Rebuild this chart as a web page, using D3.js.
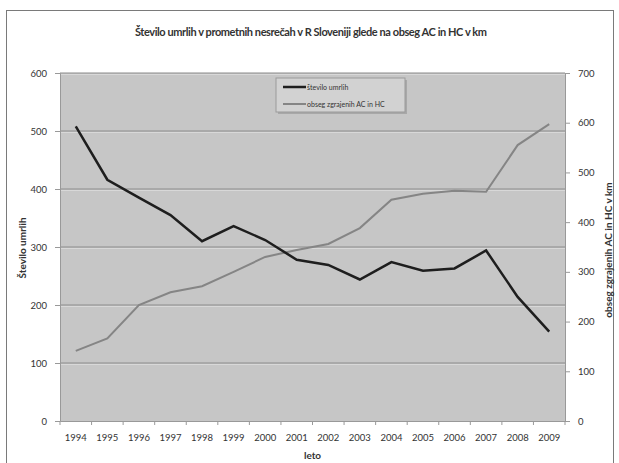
<!DOCTYPE html>
<html>
<head>
<meta charset="utf-8">
<script src="https://cdn.jsdelivr.net/npm/d3@7"></script>
<style>
body { margin: 0; background: #fff; }
text { font-family: Lato, "Open Sans", sans-serif; fill: #333; }
</style>
</head>
<body>
<div id="chart"></div>
<script>
// Data
var years = ["1994","1995","1996","1997","1998","1999","2000","2001","2002","2003","2004","2005","2006","2007","2008","2009"];
var umrli = [508, 416, 385, 355, 310, 336, 312, 278, 269, 244, 274, 259, 263, 294, 214, 154];
var obseg = [141, 166, 233, 259, 271, 300, 330, 344, 356, 388, 445, 457, 463, 461, 555, 597];
var leftTicks = [0, 100, 200, 300, 400, 500, 600];
var rightTicks = [0, 100, 200, 300, 400, 500, 600, 700];

// Size settings
var W = 619, H = 463;
var margin = { top: 73, right: 54, bottom: 42, left: 60 };
var width = W - margin.left - margin.right,
    height = H - margin.top - margin.bottom;

var svg = d3.select("#chart").append("svg")
    .attr("width", W)
    .attr("height", H);

// chart area border
svg.append("rect")
    .attr("x", 6.5).attr("y", 10.5)
    .attr("width", 607).attr("height", 460)
    .attr("fill", "#fff")
    .attr("stroke", "#7a7a7a");

svg.append("text")
    .attr("x", 311).attr("y", 36)
    .attr("text-anchor", "middle")
    .style("font-size", "11px")
    .style("font-weight", "bold")
    .attr("textLength", 352)
    .text("Število umrlih v prometnih nesrečah v R Sloveniji glede na obseg AC in HC v km");

var g = svg.append("g")
    .attr("transform", "translate(" + margin.left + "," + margin.top + ")");

// Scales
var xScale = d3.scaleBand().domain(years).range([0, width]);
var yLeft = d3.scaleLinear().domain([0, 600]).range([height, 0]);
var yRight = d3.scaleLinear().domain([0, 700]).range([height, 0]);

// plot area
g.append("rect")
    .attr("width", width).attr("height", height)
    .attr("fill", "#c6c6c6");

// gridlines
g.selectAll(".grid")
    .data(leftTicks.filter(function(d) { return d > 0; }))
  .enter().append("line")
    .attr("x1", 0).attr("x2", width)
    .attr("y1", function(d) { return yLeft(d); })
    .attr("y2", function(d) { return yLeft(d); })
    .attr("stroke", "#8c8c8c")
    .attr("stroke-width", 1.2);
g.selectAll(".gridhi")
    .data(leftTicks.filter(function(d) { return d > 0; }))
  .enter().append("line")
    .attr("x1", 0).attr("x2", width)
    .attr("y1", function(d) { return yLeft(d) + 1.5; })
    .attr("y2", function(d) { return yLeft(d) + 1.5; })
    .attr("stroke", "#d8d8d8")
    .attr("stroke-width", 1);

// Axes
var xAxis = d3.axisBottom(xScale).tickSize(0).tickPadding(13);
var leftAxis = d3.axisLeft(yLeft).tickValues(leftTicks).tickSize(5).tickPadding(8);
var rightAxis = d3.axisRight(yRight).tickValues(rightTicks).tickSize(5).tickPadding(8);

var gx = g.append("g")
    .attr("transform", "translate(0," + height + ")")
    .call(xAxis);
gx.select(".domain").attr("stroke", "#999");
gx.selectAll("text").style("font-size", "9.5px").attr("fill", "#333");
// category separators
gx.selectAll(".sep")
    .data(d3.range(years.length + 1))
  .enter().append("line")
    .attr("x1", function(d) { return d * xScale.bandwidth(); })
    .attr("x2", function(d) { return d * xScale.bandwidth(); })
    .attr("y1", 0).attr("y2", 4)
    .attr("stroke", "#999");

var gl = g.append("g").call(leftAxis);
gl.select(".domain").attr("stroke", "#999");
gl.selectAll("line").attr("stroke", "#999");
gl.selectAll("text").style("font-size", "9.5px").attr("fill", "#333");

var gr = g.append("g").attr("transform", "translate(" + width + ",0)").call(rightAxis);
gr.select(".domain").attr("stroke", "#999");
gr.selectAll("line").attr("stroke", "#999");
gr.selectAll("text").style("font-size", "9.5px").attr("fill", "#333");

// axis titles
svg.append("text")
    .attr("transform", "translate(26,248) rotate(-90)")
    .attr("text-anchor", "middle")
    .style("font-size", "10px").style("font-weight", "bold")
    .text("Število umrlih");
svg.append("text")
    .attr("transform", "translate(612,250) rotate(-90)")
    .attr("text-anchor", "middle")
    .style("font-size", "10px").style("font-weight", "bold")
    .text("obseg zgrajenih AC in HC v km");
svg.append("text")
    .attr("x", margin.left + width / 2).attr("y", 459)
    .attr("text-anchor", "middle")
    .style("font-size", "10px").style("font-weight", "bold")
    .text("leto");

// Lines
var cx = function(d, i) { return xScale(years[i]) + xScale.bandwidth() / 2; };
var lineL = d3.line().x(cx).y(function(d) { return yLeft(d); });
var lineR = d3.line().x(cx).y(function(d) { return yRight(d); });

g.append("path")
    .attr("d", lineR(obseg))
    .attr("fill", "none")
    .attr("stroke", "#858585")
    .attr("stroke-width", 2);
g.append("path")
    .attr("d", lineL(umrli))
    .attr("fill", "none")
    .attr("stroke", "#1e1e1e")
    .attr("stroke-width", 2.5);

// Legend
var leg = svg.append("g").attr("transform", "translate(276,78)");
leg.append("rect")
    .attr("x", 2).attr("y", 2)
    .attr("width", 129).attr("height", 34)
    .attr("fill", "#a8a8a8");
leg.append("rect")
    .attr("width", 129).attr("height", 34)
    .attr("fill", "#d2d2d2")
    .attr("stroke", "#9a9a9a");
var legItems = [
    { label: "število umrlih", color: "#1e1e1e", w: 2.5 },
    { label: "obseg zgrajenih AC in HC", color: "#858585", w: 2 }
];
legItems.forEach(function(d, i) {
    var yy = 9 + i * 17;
    leg.append("line")
        .attr("x1", 7).attr("x2", 30)
        .attr("y1", yy).attr("y2", yy)
        .attr("stroke", d.color).attr("stroke-width", d.w);
    leg.append("text")
        .attr("x", 31).attr("y", yy + 2.5)
        .style("font-size", "7px")
        .attr("fill", "#555")
        .text(d.label);
});
</script>
</body>
</html>
